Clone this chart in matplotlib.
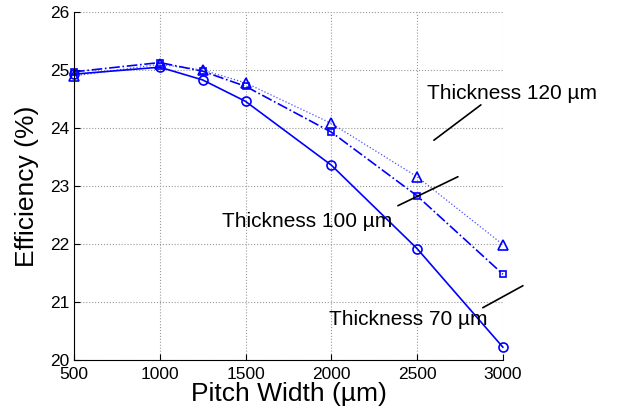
import matplotlib
matplotlib.use("Agg")
import matplotlib.pyplot as plt

plt.rcParams['font.family'] = ['Liberation Sans', 'DejaVu Sans']

pitch = [500, 1000, 1250, 1500, 2000, 2500, 3000]
eff_70 = [24.93, 25.05, 24.83, 24.46, 23.36, 21.92, 20.22]
eff_100 = [24.97, 25.13, 24.98, 24.72, 23.93, 22.83, 21.48]
eff_120 = [24.90, 25.10, 25.00, 24.78, 24.08, 23.16, 21.99]

blue = (0, 0, 1)

fig = plt.figure(figsize=(6.17, 4.18), dpi=100)
ax = fig.add_axes([0.12, 0.139, 0.695, 0.832])

ax.plot(pitch, eff_120, ls=':', lw=0.9, color=(0.3, 0.3, 1), marker='^', ms=7,
        mfc='none', mec=blue, mew=1.2, clip_on=False)
ax.plot(pitch, eff_100, ls='-.', lw=1.2, color=blue, marker='s', ms=5,
        mfc='none', mec=blue, mew=1.2, clip_on=False)
ax.plot(pitch, eff_70, ls='-', lw=1.2, color=blue, marker='o', ms=6.5,
        mfc='none', mec=blue, mew=1.2, clip_on=False)

ax.set_xlim(500, 3000)
ax.set_ylim(20, 26)
ax.set_xticks([500, 1000, 1500, 2000, 2500, 3000])
ax.set_yticks([20, 21, 22, 23, 24, 25, 26])
ax.grid(True, ls=':', color='#999999', lw=0.8)
ax.tick_params(direction='in', length=4, labelsize=12.5)
ax.tick_params(axis='x', pad=5)
ax.tick_params(axis='y', pad=3)
for s in ['top', 'right']:
    ax.spines[s].set_visible(False)

ax.set_xlabel('Pitch Width (\u00b5m)', fontsize=19, labelpad=0)
ax.set_ylabel('Efficiency (%)', fontsize=19, labelpad=8)

# annotations
labels = ['Thickness 120 \u00b5m', 'Thickness 100 \u00b5m', 'Thickness 70 \u00b5m']
text_xy = [(3052, 24.60), (1858, 22.38), (2446, 20.69)]
line_a = [(2598, 23.79), (2388, 22.66), (2883, 20.90)]
line_b = [(2872, 24.40), (2738, 23.16), (3117, 21.28)]
for lab, t, a, b in zip(labels, text_xy, line_a, line_b):
    ax.text(t[0], t[1], lab, fontsize=15, ha='center', va='center', clip_on=False)
    ax.annotate('', xy=a, xytext=b, annotation_clip=False,
                arrowprops=dict(arrowstyle='-', color='black', lw=1.2,
                                shrinkA=0, shrinkB=0))

fig.savefig('out.png', dpi=100)
